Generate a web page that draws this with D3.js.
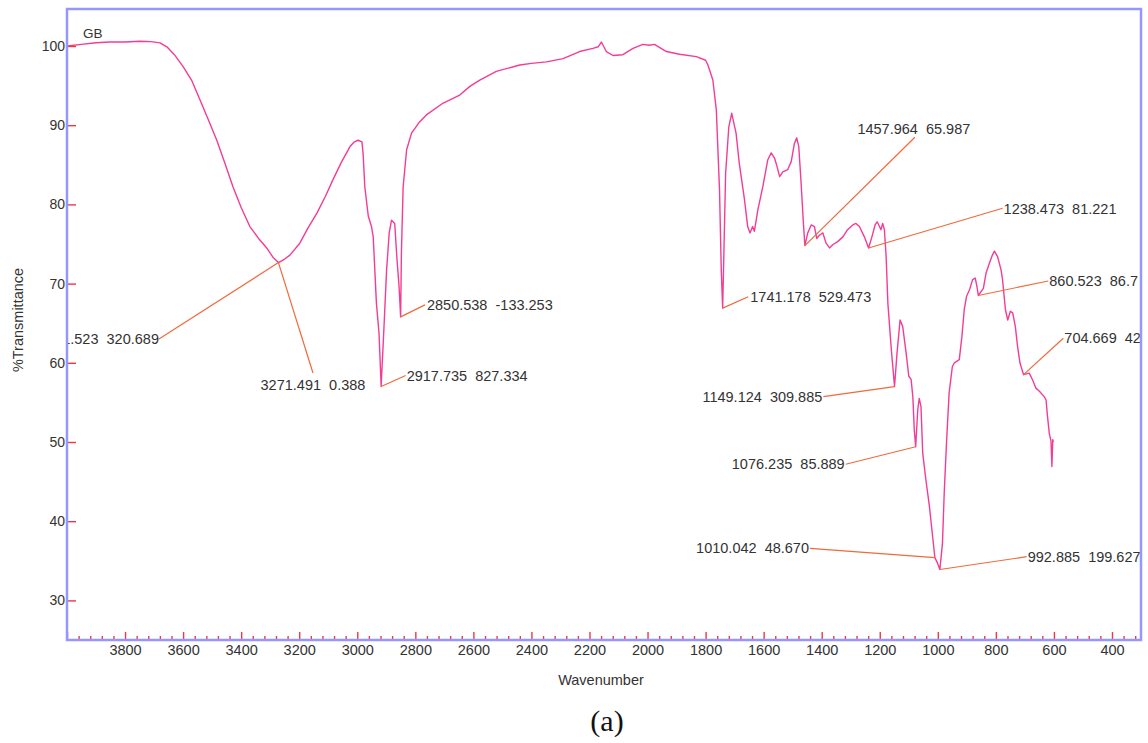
<!DOCTYPE html>
<html>
<head>
<meta charset="utf-8">
<script src="https://cdn.jsdelivr.net/npm/d3@7"></script>
<style>
  body { margin: 0; background: #ffffff; }
  svg text { font-family: "Liberation Sans", Arial, Helvetica, sans-serif; fill: #333333; }
</style>
</head>
<body>
<svg id="chart" width="1148" height="743"></svg>
<script>
// FTIR spectrum of sample GB: wavenumber (cm-1) and %Transmittance
const wavenumber = [
  4000, 3950, 3900, 3852, 3800, 3748, 3710, 3680, 3656, 3630, 3600, 3571, 3542, 3512, 3484,
  3456, 3428, 3400, 3370, 3340, 3312, 3290, 3271.491, 3250, 3232, 3198, 3170, 3139, 3110, 3084,
  3055, 3025, 3010, 2997, 2984, 2980, 2974, 2962, 2951, 2945, 2934, 2925, 2917.735, 2909, 2899,
  2890, 2882, 2871, 2863, 2856, 2850.538, 2848, 2842, 2830, 2813, 2788, 2762, 2704, 2647, 2612,
  2578, 2521, 2440, 2400, 2348, 2291, 2234, 2188, 2170, 2159, 2142, 2119, 2085, 2050, 2016,
  1995, 1976, 1935, 1890, 1832, 1800, 1792, 1775, 1763, 1752, 1746, 1741.178, 1731, 1720, 1710,
  1695, 1684, 1666, 1655, 1647, 1638, 1632, 1620, 1603, 1586, 1574, 1562, 1554, 1545, 1534,
  1517, 1505, 1494, 1486, 1479, 1471, 1463, 1457.964, 1448, 1436, 1425, 1417, 1408, 1396, 1385,
  1373, 1362, 1345, 1327, 1311, 1293, 1282, 1270, 1253, 1238.473, 1227, 1216, 1209, 1201, 1196,
  1190, 1184, 1178, 1172, 1160, 1149.124, 1141, 1130, 1121, 1109, 1100, 1092, 1086, 1081, 1076.235,
  1069, 1064, 1058, 1052, 1041, 1029, 1018, 1010.042, 1001, 992.885, 984, 978, 970, 961, 950,
  943, 926, 917, 909, 901, 891, 880, 871, 865, 860.523, 843, 834, 822, 812, 805,
  794, 782, 777, 767, 759, 750, 742, 733, 725, 717, 704.669, 685, 673, 662, 650,
  633, 627, 622, 616, 610, 607, 604, 602
];
const transmittance = [
  100.0, 100.2, 100.4, 100.5, 100.5, 100.6, 100.55, 100.4, 99.9, 98.9, 97.4, 95.7, 93.2, 90.6, 88.1,
  85.2, 82.2, 79.6, 77.2, 75.7, 74.5, 73.3, 72.65, 73.1, 73.6, 75.1, 77.0, 78.9, 81.0, 83.1,
  85.3, 87.3, 87.9, 88.1, 87.9, 86.5, 82.2, 78.5, 77.2, 75.9, 67.5, 63.7, 57.0, 63.7, 71.7,
  76.4, 78.0, 77.6, 73.0, 69.6, 65.8, 73.8, 82.2, 86.9, 89.0, 90.3, 91.3, 92.8, 93.8, 94.9,
  95.7, 96.8, 97.6, 97.8, 98.0, 98.4, 99.3, 99.7, 99.9, 100.5, 99.3, 98.8, 98.9, 99.7, 100.2,
  100.1, 100.2, 99.3, 98.95, 98.65, 98.2, 97.6, 95.7, 91.9, 81.8, 71.7, 66.9, 83.9, 89.8, 91.5,
  89.0, 85.2, 80.6, 77.2, 76.4, 77.2, 76.6, 79.3, 82.2, 85.6, 86.5, 85.8, 84.8, 83.5, 84.1,
  84.4, 85.4, 87.7, 88.4, 87.3, 82.7, 77.6, 74.8, 76.4, 77.4, 77.2, 75.7, 76.1, 76.4, 75.1,
  74.5, 74.9, 75.3, 75.9, 76.8, 77.4, 77.6, 77.2, 75.9, 74.5, 75.9, 77.4, 77.8, 77.2, 76.8,
  77.6, 76.8, 73.4, 67.5, 61.6, 57.0, 61.0, 65.4, 64.6, 61.2, 58.3, 57.9, 55.7, 51.5, 49.4,
  54.1, 55.5, 54.5, 48.6, 45.2, 41.9, 38.1, 35.4, 34.7, 33.9, 37.2, 43.5, 49.9, 56.2, 59.5,
  60.0, 60.4, 63.3, 66.7, 68.4, 69.2, 70.5, 70.7, 69.6, 68.5, 69.4, 71.3, 72.6, 73.6, 74.1,
  73.4, 71.7, 70.5, 66.7, 65.4, 66.5, 66.3, 64.6, 62.0, 60.0, 58.5, 58.7, 57.8, 56.8, 56.4,
  55.7, 55.3, 53.2, 51.1, 50.1, 46.9, 50.3, 50.0
];

// Peak-picking labels: position (cm-1) and the second reported figure, as printed
const calloutWavenumbers = [3271.491, 3271.523, 2917.735, 2850.538, 1741.178, 1457.964, 1238.473,
  860.523, 704.669, 1149.124, 1076.235, 1010.042, 992.885];
const calloutFigures = ["0.388", "320.689", "827.334", "-133.253", "529.473", "65.987", "81.221",
  "86.7", "42", "309.885", "85.889", "48.670", "199.627"];

// Axis ticks
const xMajorTicks = d3.range(4000, 299, -200);
const xMinorTicks = d3.range(4000, 299, -40).filter(v => v % 200 !== 0);
const xTickLabels = d3.range(3800, 399, -200);
const yTickValues = [30, 40, 50, 60, 70, 80, 90, 100];

// ---- layout ----
const W = 1148, H = 743;
const margin = { top: 9, right: 7, bottom: 103, left: 67 };
const plotW = W - margin.left - margin.right;
const plotH = H - margin.top - margin.bottom;

// leader-line end offsets from each peak, and text placement at the line end
const calloutLayout = [
  { dx: 34.5, dy: 110.4, anchor: "middle", tx: 0, ty: 12 },
  { dx: -119.5, dy: 76.4, anchor: "end", tx: 0, ty: 0 },
  { dx: 24.5, dy: -11, anchor: "start", tx: 1, ty: 0 },
  { dx: 24.3, dy: -12, anchor: "start", tx: 2, ty: 0 },
  { dx: 25.6, dy: -11.4, anchor: "start", tx: 2, ty: 0 },
  { dx: 110, dy: -108.3, anchor: "middle", tx: -1, ty: -8 },
  { dx: 134, dy: -39.7, anchor: "start", tx: 1, ty: 1 },
  { dx: 70, dy: -14.5, anchor: "start", tx: 1, ty: 0 },
  { dx: 39.8, dy: -36.4, anchor: "start", tx: 1, ty: 0 },
  { dx: -71.2, dy: 10.1, anchor: "end", tx: -1, ty: 0 },
  { dx: -70, dy: 17.5, anchor: "end", tx: -1, ty: 0 },
  { dx: -124.9, dy: -9.3, anchor: "end", tx: -1, ty: 0 },
  { dx: 86.8, dy: -12.8, anchor: "start", tx: 1, ty: 0 }
];

const svg = d3.select("#chart");
svg.append("rect").attr("width", W).attr("height", H).attr("fill", "#ffffff");

const x = d3.scaleLinear().domain([4000, 300]).range([0, plotW]);
const y = d3.scaleLinear().domain([25, 104.67]).range([plotH, 0]);

const defs = svg.append("defs");
defs.append("clipPath").attr("id", "plot-clip")
  .append("rect").attr("width", plotW).attr("height", plotH);

const g = svg.append("g").attr("transform", `translate(${margin.left},${margin.top})`);

// spectrum trace
const spectrum = wavenumber.map((w, i) => ({ w, t: transmittance[i] }));
const line = d3.line().x(d => x(d.w)).y(d => y(d.t));

const plot = g.append("g").attr("clip-path", "url(#plot-clip)");
plot.append("path")
  .datum(spectrum)
  .attr("d", line)
  .attr("fill", "none")
  .attr("stroke", "#f23d96")
  .attr("stroke-width", 1.4)
  .attr("stroke-linejoin", "round");

// peak callouts
const nearest = w => spectrum[d3.leastIndex(spectrum, d => Math.abs(d.w - w))];
const callouts = calloutWavenumbers.map((w, i) => {
  const p = nearest(w);
  const L = calloutLayout[i];
  const px = x(w), py = y(p.t);
  return {
    px, py, ex: px + L.dx, ey: py + L.dy, L,
    label: w.toFixed(3) + "  " + calloutFigures[i]
  };
});

plot.selectAll("line.leader").data(callouts).join("line")
  .attr("class", "leader")
  .attr("x1", d => d.px).attr("y1", d => d.py)
  .attr("x2", d => d.ex).attr("y2", d => d.ey)
  .attr("stroke", "#f06a3c")
  .attr("stroke-width", 1.2);

plot.selectAll("text.peak").data(callouts).join("text")
  .attr("class", "peak")
  .attr("x", d => d.ex + d.L.tx)
  .attr("y", d => d.ey + d.L.ty)
  .attr("dy", "0.35em")
  .attr("text-anchor", d => d.L.anchor)
  .style("white-space", "pre")
  .attr("font-size", "14.5px")
  .text(d => d.label);

// sample name
g.append("text")
  .attr("x", 16).attr("y", 29)
  .attr("font-size", "13.5px")
  .text("GB");

// tick labels
const xLabels = g.append("g")
  .attr("transform", `translate(0,${plotH})`)
  .call(d3.axisBottom(x).tickValues(xTickLabels).tickSize(0).tickPadding(5).tickFormat(d3.format("d")));
xLabels.select(".domain").remove();
xLabels.selectAll("text").attr("font-size", "14.5px").attr("font-family", null).style("fill", "#333");

const yLabels = g.append("g")
  .call(d3.axisLeft(y).tickValues(yTickValues).tickSize(0).tickPadding(2).tickFormat(d3.format("d")));
yLabels.select(".domain").remove();
yLabels.selectAll("text").attr("font-size", "14px").attr("font-family", null).style("fill", "#333");

// inward red tick marks
const tickColor = "#f2383c";
const xMinor = g.append("g").attr("transform", `translate(0,${plotH})`)
  .call(d3.axisTop(x).tickValues(xMinorTicks).tickSize(4).tickFormat(""));
const xMajor = g.append("g").attr("transform", `translate(0,${plotH})`)
  .call(d3.axisTop(x).tickValues(xMajorTicks).tickSize(8).tickFormat(""));
const yTicks = g.append("g")
  .call(d3.axisRight(y).tickValues(yTickValues).tickSize(9).tickFormat(""));
[xMinor, xMajor, yTicks].forEach(a => {
  a.select(".domain").remove();
  a.selectAll(".tick line").attr("stroke", tickColor).attr("stroke-width", 1.4);
});

// plot frame
g.append("rect")
  .attr("width", plotW).attr("height", plotH)
  .attr("fill", "none")
  .attr("stroke", "#9696ff")
  .attr("stroke-width", 2.5);

// axis titles
svg.append("text")
  .attr("x", margin.left + plotW / 2 - 3).attr("y", 680)
  .attr("dy", "0.35em")
  .attr("text-anchor", "middle")
  .attr("font-size", "14.5px")
  .text("Wavenumber");

svg.append("text")
  .attr("transform", "translate(17.5,320) rotate(-90)")
  .attr("dy", "0.35em")
  .attr("text-anchor", "middle")
  .attr("font-size", "14.5px")
  .text("%Transmittance");

// panel tag
svg.append("text")
  .attr("x", 607).attr("y", 720)
  .attr("dy", "0.35em")
  .attr("text-anchor", "middle")
  .style("font-family", "'Liberation Serif', 'Times New Roman', serif")
  .style("fill", "#111")
  .attr("font-size", "30px")
  .text("(a)");
</script>
</body>
</html>
